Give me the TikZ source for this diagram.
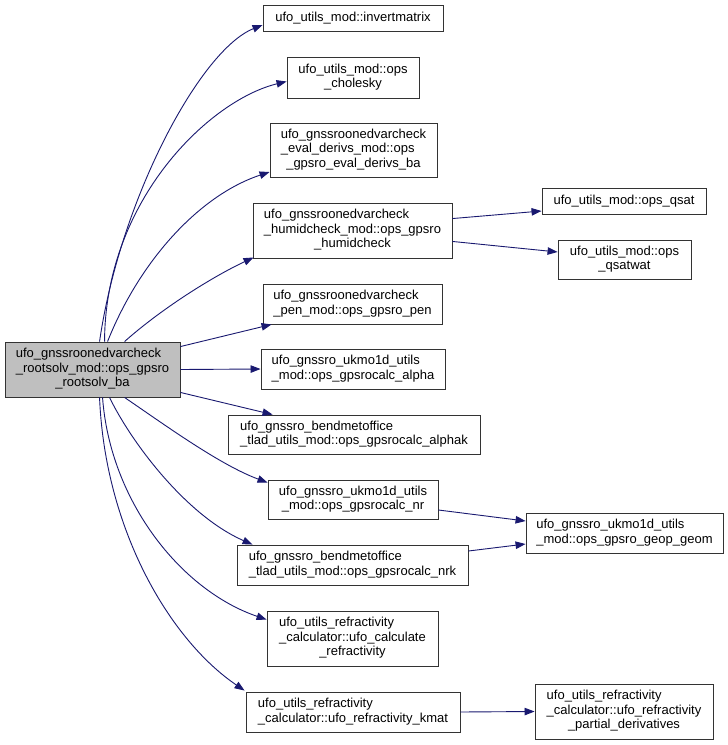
\documentclass[tikz,border=0pt]{standalone}
\usepackage{fontspec}
\setmainfont{Liberation Sans}
\usetikzlibrary{arrows.meta}
\definecolor{edgec}{RGB}{25,25,112}
\definecolor{rootfill}{RGB}{191,191,191}
\newcommand\mlab[2]{\begin{tabular}{@{}l@{}}#1\\\multicolumn{1}{@{}c@{}}{#2}\end{tabular}}
\begin{document}
\begin{tikzpicture}[x=1pt,y=-1pt,
  box/.style={draw=black!80, line width=0.9pt, rectangle, inner sep=0pt,
    font=\fontsize{13}{14.4}\selectfont, text=black},
  e/.style={draw=edgec, line width=0.9pt, -{Triangle[length=10pt,width=7.5pt]}}]
\useasboundingbox (0,0) rectangle (728,745);
\fill[white] (0,0) rectangle (728,745);

\node[box, fill=rootfill, minimum width=175pt, minimum height=55pt] (root) at (92.5,369.5)
  {\mlab{ufo\_gnssroonedvarcheck\\\_rootsolv\_mod::ops\_gpsro}{\_rootsolv\_ba}};

\node[box, minimum width=180pt, minimum height=26pt] (inv) at (353,18) {ufo\_utils\_mod::invertmatrix};
\node[box, minimum width=132pt, minimum height=41pt] (chol) at (353,77.5) {\mlab{ufo\_utils\_mod::ops}{\_cholesky}};
\node[box, minimum width=167pt, minimum height=54pt] (eval) at (353.5,150)
  {\mlab{ufo\_gnssroonedvarcheck\\\_eval\_derivs\_mod::ops}{\_gpsro\_eval\_derivs\_ba}};
\node[box, minimum width=199pt, minimum height=55pt] (humid) at (352.5,230.5)
  {\mlab{ufo\_gnssroonedvarcheck\\\_humidcheck\_mod::ops\_gpsro}{\_humidcheck}};
\node[box, minimum width=179pt, minimum height=40pt] (pen) at (352.5,304)
  {\mlab{ufo\_gnssroonedvarcheck}{\_pen\_mod::ops\_gpsro\_pen}};
\node[box, minimum width=184pt, minimum height=40pt] (alpha) at (353,369)
  {\mlab{ufo\_gnssro\_ukmo1d\_utils}{\_mod::ops\_gpsrocalc\_alpha}};
\node[box, minimum width=252pt, minimum height=39pt] (alphak) at (354,434.5)
  {\mlab{ufo\_gnssro\_bendmetoffice}{\_tlad\_utils\_mod::ops\_gpsrocalc\_alphak}};
\node[box, minimum width=170pt, minimum height=39pt] (nr) at (353,499.5)
  {\mlab{ufo\_gnssro\_ukmo1d\_utils}{\_mod::ops\_gpsrocalc\_nr}};
\node[box, minimum width=231pt, minimum height=40pt] (nrk) at (352.5,565)
  {\mlab{ufo\_gnssro\_bendmetoffice}{\_tlad\_utils\_mod::ops\_gpsrocalc\_nrk}};
\node[box, minimum width=171pt, minimum height=55pt] (calc) at (352.5,638.5)
  {\mlab{ufo\_utils\_refractivity\\\_calculator::ufo\_calculate}{\_refractivity}};
\node[box, minimum width=214pt, minimum height=40pt] (kmat) at (353,712)
  {\mlab{ufo\_utils\_refractivity}{\_calculator::ufo\_refractivity\_kmat}};

\node[box, minimum width=164pt, minimum height=26pt] (qsat) at (624,201) {ufo\_utils\_mod::ops\_qsat};
\node[box, minimum width=133pt, minimum height=39pt] (qsatwat) at (624.5,259.5)
  {\mlab{ufo\_utils\_mod::ops}{\_qsatwat}};
\node[box, minimum width=197pt, minimum height=40pt] (geop) at (624.5,533)
  {\mlab{ufo\_gnssro\_ukmo1d\_utils}{\_mod::ops\_gpsro\_geop\_geom}};
\node[box, minimum width=178pt, minimum height=55pt] (partial) at (624,711.5)
  {\mlab{ufo\_utils\_refractivity\\\_calculator::ufo\_refractivity}{\_partial\_derivatives}};

% fan out from root
\draw[e] ([xshift=95pt]root.north west) .. controls (120,200) and (200,50) .. ([yshift=-7pt]inv.west);
\draw[e] ([xshift=100pt]root.north west) .. controls (105,200) and (210,100) .. ([yshift=-4pt]chol.west);
\draw[e] ([xshift=103pt]root.north west) .. controls (140,260) and (200,195) .. ([yshift=-22pt]eval.west);
\draw[e] ([xshift=120pt]root.north west) .. controls (160,310) and (210,278) .. ([xshift=1pt,yshift=1pt]humid.south west);
\draw[e] ([yshift=-5pt]root.north east) -- ([xshift=9pt]pen.south west);
\draw[e] (root.east) -- (alpha.west);
\draw[e] ([yshift=5pt]root.south east) -- ([xshift=45pt]alphak.north west);
\draw[e] ([xshift=120pt]root.south west) .. controls (165,425) and (220,465) .. ([yshift=-3pt]nr.north west);
\draw[e] ([xshift=105pt]root.south west) .. controls (130,440) and (185,515) .. ([xshift=16pt]nrk.north west);
\draw[e] ([xshift=98pt]root.south west) .. controls (110,500) and (180,590) .. ([yshift=-9pt]calc.north west);
\draw[e] ([xshift=95pt]root.south west) .. controls (105,530) and (170,640) .. ([xshift=-1pt,yshift=1pt]kmat.north west);

% right side
\draw[e] ([yshift=-16pt]humid.north east) -- ([yshift=-10pt]qsat.west);
\draw[e] ([yshift=17pt]humid.south east) -- ([yshift=7.5pt]qsatwat.west);
\draw[e] ([yshift=-10.5pt]nr.east) -- ([yshift=12pt]geop.west);
\draw[e] ([yshift=14pt]nrk.east) -- ([yshift=-11pt]geop.west);
\draw[e] (kmat.east) -- (partial.west);
\end{tikzpicture}
\end{document}
